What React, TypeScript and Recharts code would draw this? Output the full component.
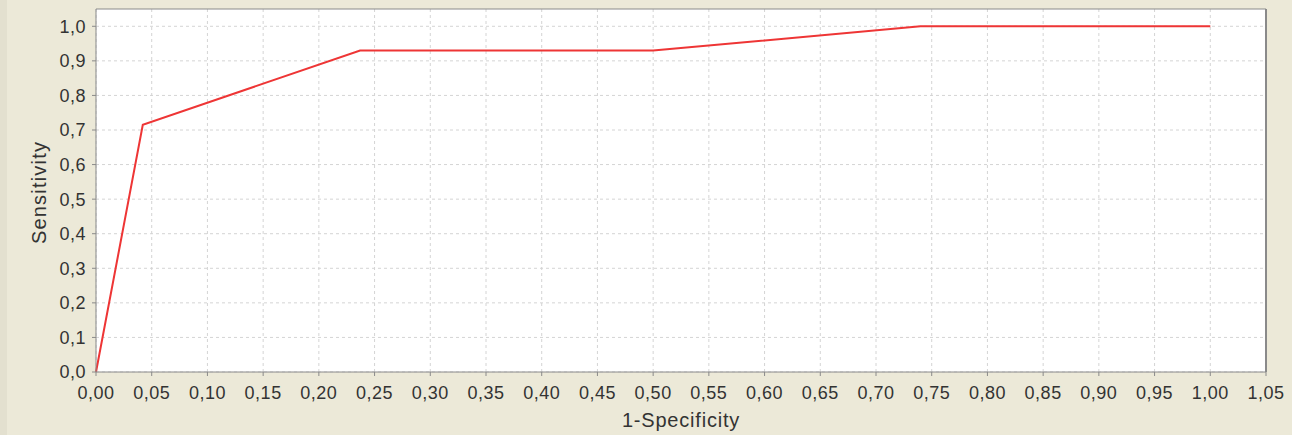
import {
  LineChart,
  Line,
  XAxis,
  YAxis,
  CartesianGrid,
  ReferenceLine,
} from "recharts";

// ROC curve points
const specComplement = [0, 0.042, 0.237, 0.5, 0.74, 1.0];
const sensitivity = [0, 0.715, 0.93, 0.93, 1.0, 1.0];

const xTicks = [
  0, 0.05, 0.1, 0.15, 0.2, 0.25, 0.3, 0.35, 0.4, 0.45, 0.5, 0.55, 0.6, 0.65,
  0.7, 0.75, 0.8, 0.85, 0.9, 0.95, 1.0, 1.05,
];
const yTicks = [0, 0.1, 0.2, 0.3, 0.4, 0.5, 0.6, 0.7, 0.8, 0.9, 1.0];

const data = specComplement.map((x, i) => ({ x, y: sensitivity[i] }));

const FONT = "'Liberation Sans', Arial, sans-serif";
const TEXT = "#333333";
const AXIS = "#8a8a8a";

const fmt = (digits: number) => (v: number) =>
  v.toFixed(digits).replace(".", ",");

const tickStyle = {
  fill: TEXT,
  fontSize: 18,
  fontFamily: FONT,
  letterSpacing: 0.5,
};

function YLabel({ viewBox }: { viewBox?: any }) {
  if (!viewBox) return null;
  const cx = viewBox.x + 39;
  const cy = viewBox.y + viewBox.height / 2 + 2;
  return (
    <text
      x={cx}
      y={cy}
      transform={`rotate(-90 ${cx} ${cy})`}
      textAnchor="middle"
      dominantBaseline="central"
      fontFamily={FONT}
      fontSize={20}
      letterSpacing={1.2}
      fill={TEXT}
    >
      Sensitivity
    </text>
  );
}

function XLabel({ viewBox }: { viewBox?: any }) {
  if (!viewBox) return null;
  return (
    <text
      x={viewBox.x + viewBox.width / 2}
      y={viewBox.y + 48}
      textAnchor="middle"
      dominantBaseline="central"
      fontFamily={FONT}
      fontSize={20}
      letterSpacing={0.8}
      fill={TEXT}
    >
      1-Specificity
    </text>
  );
}

export default function App() {
  return (
    <div
      style={{
        position: "absolute",
        left: 0,
        top: 0,
        width: 1292,
        height: 435,
        background: "#ECE9D8",
      }}
    >
      <div
        style={{
          position: "absolute",
          left: 0,
          top: 0,
          width: 7,
          height: 435,
          background: "#E3E0CF",
        }}
      />
      <div style={{ position: "absolute", left: 0, top: 0 }}>
        <LineChart
          width={1292}
          height={435}
          data={data}
          margin={{ top: 9, right: 26, left: 0, bottom: 0 }}
        >
          <CartesianGrid
            stroke="#d4d4d4"
            strokeDasharray="3 3"
            fill="#ffffff"
            horizontalValues={yTicks}
            verticalValues={xTicks}
          />
          <XAxis
            dataKey="x"
            type="number"
            domain={[0, 1.05]}
            ticks={xTicks}
            interval={0}
            tickFormatter={fmt(2)}
            height={63}
            tickSize={4}
            tickMargin={10}
            stroke={AXIS}
            tick={tickStyle}
            label={<XLabel />}
          />
          <YAxis
            type="number"
            domain={[0, 1.05]}
            ticks={yTicks}
            interval={0}
            tickFormatter={fmt(1)}
            width={96}
            tickSize={4}
            tickMargin={6}
            stroke={AXIS}
            tick={tickStyle}
            label={<YLabel />}
          />
          <ReferenceLine y={1.05} stroke={AXIS} strokeWidth={1} />
          <ReferenceLine x={1.05} stroke={AXIS} strokeWidth={2} />
          <Line
            dataKey="y"
            type="linear"
            stroke="#ee3535"
            strokeWidth={2}
            dot={false}
            activeDot={false}
            isAnimationActive={false}
          />
        </LineChart>
      </div>
    </div>
  );
}
